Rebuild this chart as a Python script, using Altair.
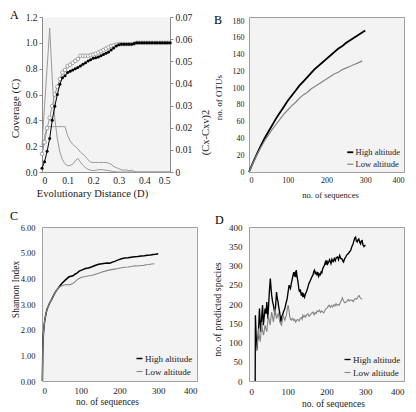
import altair as alt
import pandas as pd

SERIF = "Liberation Serif"
BG = "#f3f3f3"
FRAME = "#a0a0a0"
AXIS = "#8c8c8c"
TXT = "#1a1a1a"
HIGH = "#000000"
LOW = "#858585"
SITES = ["High altitude", "Low altitude"]

# ---------------- Panel A : coverage vs evolutionary distance ----------------
dist = [0.00, 0.01, 0.02, 0.03, 0.04, 0.05, 0.06, 0.07, 0.08, 0.09,
        0.10, 0.11, 0.12, 0.13, 0.14, 0.15, 0.16, 0.17, 0.18, 0.19,
        0.20, 0.21, 0.22, 0.23, 0.24, 0.25, 0.26, 0.27, 0.28, 0.29,
        0.30, 0.31, 0.32, 0.33, 0.34, 0.35, 0.36, 0.37, 0.38, 0.39,
        0.40, 0.41, 0.42, 0.43, 0.44, 0.45, 0.46, 0.47, 0.48, 0.49, 0.50]
cov_filled = [0.03, 0.08, 0.16, 0.26, 0.40, 0.51, 0.60, 0.68, 0.73, 0.745,
              0.77, 0.78, 0.79, 0.80, 0.81, 0.82, 0.835, 0.845, 0.86, 0.87,
              0.88, 0.885, 0.89, 0.90, 0.91, 0.92, 0.93, 0.945, 0.96, 0.975,
              0.985, 0.99, 0.99, 0.99, 0.99, 0.99, 0.995, 1.0, 1.0, 1.0,
              1.0, 1.0, 1.0, 1.0, 1.0, 1.0, 1.0, 1.0, 1.0, 1.0, 1.0]
cov_open = [0.14, 0.23, 0.34, 0.42, 0.51, 0.60, 0.66, 0.72, 0.77, 0.79,
            0.82, 0.83, 0.845, 0.86, 0.875, 0.90, 0.90, 0.90, 0.90, 0.905,
            0.91, 0.915, 0.925, 0.935, 0.945, 0.955, 0.965, 0.975, 0.98, 0.985,
            0.99, 0.99, 0.99, 0.99, 0.99, 0.99, 0.995, 1.0, 1.0, 1.0,
            1.0, 1.0, 1.0, 1.0, 1.0, 1.0, 1.0, 1.0, 1.0, 1.0, 1.0]
dev_peak = [0.012, 0.030, 0.047, 0.065, 0.042, 0.024, 0.015, 0.009, 0.0055, 0.0037,
            0.0028, 0.003, 0.0035, 0.005, 0.0062, 0.0045, 0.003, 0.002, 0.0012, 0.0008,
            0.0006, 0.0008, 0.0010, 0.0011, 0.0010, 0.0008, 0.0006, 0.0004, 0.0002, 0.0001,
            0.0, 0.0, 0.0, 0.0, 0.0, 0.0, 0.0, 0.0, 0.0, 0.0,
            0.0, 0.0, 0.0, 0.0, 0.0, 0.0, 0.0, 0.0, 0.0, 0.0, 0.0]
dev_plateau = [0.008, 0.016, 0.0205, 0.0205, 0.0205, 0.0205, 0.0205, 0.0205, 0.0205, 0.0205,
               0.0165, 0.014, 0.0125, 0.0115, 0.0105, 0.009, 0.008, 0.007, 0.0055, 0.0045,
               0.0043, 0.0043, 0.0043, 0.0043, 0.0043, 0.0043, 0.0040, 0.0035, 0.0025, 0.002,
               0.0015, 0.001, 0.0008, 0.001, 0.0005, 0.0008, 0.0003, 0.0, 0.0, 0.0,
               0.0, 0.0, 0.0, 0.0, 0.0, 0.0, 0.0, 0.0, 0.0, 0.0, 0.0]
a_xticks = [0, 0.1, 0.2, 0.3, 0.4, 0.5]
a_lticks = [0, 0.2, 0.4, 0.6, 0.8, 1.0, 1.2]
a_rticks = [0, 0.01, 0.02, 0.03, 0.04, 0.05, 0.06, 0.07]

# ---------------- Panel B : OTU rarefaction ----------------
b_high_n = [0, 10, 20, 30, 40, 50, 60, 70, 80, 90, 100, 110, 120, 130, 140, 150,
            160, 170, 180, 190, 200, 210, 220, 230, 240, 250, 260, 270, 280, 290, 300]
b_high_otu = [0, 11, 21, 31, 40, 48, 56, 64, 71, 78, 85, 91, 97, 103, 108, 113,
              118, 123, 127, 131, 135, 139, 143, 147, 150, 154, 157, 160, 163, 166, 169]
b_low_n = [0, 10, 20, 30, 40, 50, 60, 70, 80, 90, 100, 110, 120, 130, 140, 150,
           160, 170, 180, 190, 200, 210, 220, 230, 240, 250, 260, 270, 280, 290, 292]
b_low_otu = [0, 10, 20, 29, 37, 44, 51, 57, 63, 69, 74, 79, 83, 88, 92, 95,
             99, 102, 105, 108, 111, 114, 117, 119, 122, 124, 126, 128, 130, 132, 133]

# ---------------- Panel C : Shannon index ----------------
c_high_n = [1, 2, 3, 5, 7, 10, 13, 16, 20, 24, 28, 33, 37, 41, 45, 50, 55, 60, 65, 70,
            75, 80, 85, 90, 96, 104, 112, 120, 129, 137, 146, 155, 163, 170, 175, 182,
            189, 197, 205, 213, 222, 230, 239, 247, 256, 264, 272, 280, 287, 293, 300]
c_high_h = [0.0, 1.2, 1.7, 2.1, 2.35, 2.6, 2.8, 2.9, 3.05, 3.15, 3.28, 3.42, 3.52, 3.6,
            3.68, 3.78, 3.86, 3.93, 4.0, 4.06, 4.08, 4.1, 4.16, 4.2, 4.28, 4.33, 4.38,
            4.4, 4.45, 4.5, 4.55, 4.57, 4.59, 4.6, 4.59, 4.63, 4.67, 4.72, 4.76, 4.79,
            4.8, 4.82, 4.84, 4.85, 4.87, 4.88, 4.9, 4.91, 4.93, 4.94, 4.96]
c_low_n = [1, 2, 3, 5, 7, 10, 13, 16, 20, 24, 28, 33, 37, 41, 45, 50, 55, 60, 65, 70,
           75, 80, 85, 91, 97, 104, 112, 121, 130, 138, 146, 155, 163, 172, 180, 188,
           196, 205, 214, 222, 230, 238, 246, 255, 262, 268, 276, 283, 290]
c_low_h = [0.0, 1.2, 1.7, 2.1, 2.35, 2.6, 2.8, 2.9, 3.05, 3.15, 3.28, 3.42, 3.52, 3.6,
           3.66, 3.7, 3.73, 3.75, 3.76, 3.74, 3.77, 3.8, 3.86, 3.95, 4.0, 4.05, 4.07,
           4.1, 4.12, 4.16, 4.2, 4.25, 4.28, 4.32, 4.34, 4.36, 4.38, 4.41, 4.43, 4.44,
           4.46, 4.49, 4.48, 4.5, 4.5, 4.53, 4.54, 4.56, 4.57]

# ---------------- Panel D : predicted species ----------------
d_high_n = [16, 16.5, 20, 22, 24, 27, 29, 30.5, 33, 35, 37, 39, 41.5, 44, 46, 48.5, 50.5,
            52.5, 55, 57, 58.5, 61, 63, 65, 67, 69, 71, 73, 75, 77, 79, 81, 82.5, 84.5,
            86.5, 89, 92.5, 95, 98.5, 101, 103.5, 105.5, 107, 109, 111, 113, 115.5, 117,
            119, 120.5, 122, 124, 126.5, 128.5, 130.5, 132.5, 135, 137, 139, 141, 143.5,
            145.5, 148, 151, 154.5, 157, 160.5, 163, 165, 167, 169, 171, 173, 175.5,
            177.5, 180, 182, 184, 186, 188, 190, 192, 194.5, 197, 199, 201, 203, 205.5,
            208, 211.5, 214, 217, 220, 222.5, 225, 228.5, 231, 234, 237, 239.5, 242,
            244, 247, 249.5, 252, 256.5, 259, 262.5, 265, 268.5, 271, 273, 275, 277,
            279.5, 281.5, 283.5, 286, 288, 290, 292, 294, 296.5, 299, 300]
d_high_s = [0, 171, 80, 105, 119, 188, 150, 128, 170, 197, 145, 165, 188, 175, 205, 162, 195,
            231, 266, 240, 223, 205, 197, 185, 171, 200, 231, 215, 205, 190, 179, 165, 153, 168,
            171, 180, 188, 200, 214, 232, 249, 243, 240, 252, 262, 272, 283, 275,
            280, 270, 288, 272, 257, 240, 231, 238, 222, 230, 218, 225, 218,
            226, 231, 240, 253, 258, 266, 272, 275, 284, 288, 279, 282, 276,
            283, 272, 278, 276, 283, 281, 291, 296, 300, 309, 302, 313, 304, 309,
            315, 305, 316, 310, 318, 312, 320, 322, 315, 326, 318, 318, 312,
            309, 318, 322, 327, 331, 335, 339, 348, 356, 365, 372, 374, 364,
            361, 367, 369, 360, 356, 364, 365, 354, 349, 352, 350]
d_low_n = [19, 21, 23, 24.5, 26.5, 29, 31, 33, 35, 37.5, 39.5, 41.5, 44, 46, 48, 50, 52,
           54.5, 56.5, 58.5, 61, 63, 65, 67, 69, 71, 73, 75.5, 77.5, 79.5, 82, 84, 86, 88,
           90, 92.5, 94.5, 96.5, 99, 101, 103, 105, 107, 109.5, 111.5, 113.5, 116, 118,
           120.5, 123, 126, 129, 132, 135, 137, 139, 141.5, 144, 146, 149, 152, 155, 158,
           161.5, 165, 168, 170.5, 173, 176, 179, 182, 185, 188, 190.5, 193, 196, 199,
           202, 205, 207, 210, 213, 216, 219, 222, 224.5, 227.5, 230, 233, 236, 238.5,
           241, 244, 247, 250, 253, 256, 259, 262, 266, 269, 272, 275, 278, 281, 284,
           287, 290, 292]
d_low_s = [78, 95, 110, 136, 118, 102, 125, 153, 130, 119, 132, 145, 135, 128, 150, 171, 158,
           145, 163, 179, 165, 153, 170, 188, 175, 162, 168, 175, 165, 153, 148, 145, 158, 171,
           165, 158, 165, 171, 188, 197, 185, 168, 160, 158, 163, 162, 157, 160,
           153, 158, 160, 156, 162, 165, 160, 171, 166, 170, 166, 172, 175, 168, 171,
           176, 179, 172, 178, 175, 182, 180, 184, 178, 182, 179, 177, 184, 188,
           190, 195, 197, 191, 196, 192, 198, 195, 201, 196, 199, 197, 205, 210,
           216, 208, 203, 205, 207, 212, 208, 210, 210, 206, 212, 214, 213, 218, 222,
           216, 214, 212]

seq_ticks = [0, 100, 200, 300, 400]


def letter(t, dx, offset):
    return alt.TitleParams(t, anchor="start", frame="group", dx=dx, offset=offset,
                           font=SERIF, fontSize=12, fontWeight="normal", color="black")


def view_box(stroke):
    return alt.ViewBackground(fill=BG, stroke=stroke, strokeWidth=1)


def frame_axis(**kw):
    base = dict(grid=False, ticks=False, domain=False, labelFont=SERIF, labelColor=TXT,
                titleFont=SERIF, titleColor=TXT, titleFontWeight="normal",
                titleBaseline="middle")
    base.update(kw)
    return alt.Axis(**base)


def legend(size, offset):
    return alt.Legend(orient="bottom-right", offset=offset, symbolType="stroke",
                      symbolSize=36, symbolStrokeWidth=1.5, labelFont=SERIF,
                      labelFontSize=size, labelColor=TXT, labelFontWeight="normal",
                      padding=0, rowPadding=3, labelOffset=1, title=None)


def site_enc(size, offset, widths):
    return dict(
        color=alt.Color("site:N", scale=alt.Scale(domain=SITES, range=[HIGH, LOW]),
                        legend=legend(size, offset), title=None),
        strokeWidth=alt.StrokeWidth("site:N", scale=alt.Scale(domain=SITES, range=widths),
                                    legend=None),
    )


# ---- Panel A ----
dfA = pd.DataFrame({"D": dist, "filled": cov_filled, "open": cov_open,
                    "peak": dev_peak, "plateau": dev_plateau})
A_W, A_H = 128, 155
xA = alt.X("D:Q", scale=alt.Scale(domain=[0, 0.5], nice=False, zero=False),
           axis=alt.Axis(values=a_xticks, grid=False, ticks=False, domainColor=AXIS,
                         labelExpr="datum.value == 0 ? '0' : format(datum.value, '.1f')",
                         labelFont=SERIF, labelFontSize=9.5, labelColor=TXT, labelPadding=3,
                         title="Evolutionary Distance (D)", titleFont=SERIF, titleFontSize=10.5,
                         titleFontWeight="normal", titleColor=TXT, titleX=50, titleY=21,
                         titleBaseline="middle"))
axL = alt.Axis(orient="left", values=a_lticks, format=".1f", grid=False, tickSize=3,
               tickColor=AXIS, domainColor=AXIS, labelFont=SERIF, labelFontSize=9.5,
               labelColor=TXT, labelPadding=2, title="Coverage (C)", titleFont=SERIF,
               titleFontSize=11, titleFontWeight="normal", titleColor=TXT, titleX=-27,
               titleY=91, titleAngle=270, titleBaseline="middle")
axR = alt.Axis(orient="right", values=a_rticks, grid=False, tickSize=3, tickColor=AXIS,
               domainColor=AXIS, labelFont=SERIF, labelFontSize=9.5, labelColor=TXT,
               labelPadding=2,
               labelExpr="datum.value == 0 ? '0' : format(datum.value, '.2f')",
               title="(Cx-Cxv)2", titleFont=SERIF, titleFontSize=10.5,
               titleFontWeight="normal", titleColor=TXT, titleX=35, titleY=115,
               titleAngle=270, titleBaseline="middle")
yL_open = alt.Y("open:Q", scale=alt.Scale(domain=[0, 1.2], nice=False), axis=axL)
yL_fill = alt.Y("filled:Q", scale=alt.Scale(domain=[0, 1.2], nice=False), axis=axL)

devs = alt.Chart(dfA).transform_fold(["peak", "plateau"], as_=["k", "v"]).mark_line(
    color="#9a9a9a", strokeWidth=1).encode(
    x=xA, y=alt.Y("v:Q", scale=alt.Scale(domain=[0, 0.07], nice=False), axis=axR),
    detail="k:N")
open_line = alt.Chart(dfA).mark_line(
    color="#8f8f8f", strokeWidth=0.9,
    point=alt.OverlayMarkDef(filled=False, fill="white", stroke="#8f8f8f", size=13,
                             strokeWidth=0.8)).encode(x=xA, y=yL_open)
fill_line = alt.Chart(dfA).mark_line(
    color="black", strokeWidth=1,
    point=alt.OverlayMarkDef(filled=True, color="black", size=9)).encode(x=xA, y=yL_fill)

panelA = alt.layer(devs, alt.layer(open_line, fill_line)).resolve_scale(
    y="independent").properties(width=A_W, height=A_H, title=letter("A", -32, -10),
                                view=view_box("transparent"))

# ---- Panel B ----
dfB = pd.concat([
    pd.DataFrame({"n": b_high_n, "v": b_high_otu, "site": SITES[0]}),
    pd.DataFrame({"n": b_low_n, "v": b_low_otu, "site": SITES[1]}),
])
panelB = alt.Chart(dfB).mark_line().encode(
    x=alt.X("n:Q", scale=alt.Scale(domain=[0, 400], nice=False),
            axis=frame_axis(values=seq_ticks, labelFontSize=8, labelPadding=4,
                            title="no. of sequences", titleFontSize=8.5, titleX=81, titleY=22)),
    y=alt.Y("v:Q", scale=alt.Scale(domain=[0, 185], nice=False),
            axis=frame_axis(values=[0, 20, 40, 60, 80, 100, 120, 140, 160, 180],
                            labelFontSize=8, labelPadding=5, title="no. of OTUs",
                            titleFontSize=9, titleX=-31, titleY=80, titleAngle=270)),
    order="site:N",
    **site_enc(8.5, 3, [1.8, 1.2]),
).properties(width=155, height=155, title=letter("B", -35, -10), view=view_box(FRAME))

# ---- Panel C ----
dfC = pd.concat([
    pd.DataFrame({"n": c_high_n, "v": c_high_h, "site": SITES[0]}),
    pd.DataFrame({"n": c_low_n, "v": c_low_h, "site": SITES[1]}),
])
panelC = alt.Chart(dfC).mark_line().encode(
    x=alt.X("n:Q", scale=alt.Scale(domain=[0, 400], nice=False),
            axis=frame_axis(values=seq_ticks, labelFontSize=9, labelPadding=5,
                            title="no. of sequences", titleFontSize=9.5, titleX=65, titleY=20)),
    y=alt.Y("v:Q", scale=alt.Scale(domain=[0, 6], nice=False),
            axis=frame_axis(values=[0, 1, 2, 3, 4, 5, 6], format=".2f", labelFontSize=8.5,
                            labelPadding=7, title="Shannon Index", titleFontSize=9.5,
                            titleX=-27, titleY=62, titleAngle=270)),
    **site_enc(9, 4, [1.5, 1.1]),
).properties(width=155, height=154, title=letter("C", -32, 0), view=view_box(FRAME))

# ---- Panel D ----
dfD = pd.concat([
    pd.DataFrame({"n": d_high_n, "v": d_high_s, "site": SITES[0]}),
    pd.DataFrame({"n": d_low_n, "v": d_low_s, "site": SITES[1]}),
])
panelD = alt.Chart(dfD).mark_line().encode(
    x=alt.X("n:Q", scale=alt.Scale(domain=[0, 400], nice=False),
            axis=frame_axis(values=seq_ticks, labelFontSize=9, labelPadding=6,
                            title="no. of sequences", titleFontSize=9.5, titleX=84, titleY=22)),
    y=alt.Y("v:Q", scale=alt.Scale(domain=[0, 400], nice=False),
            axis=frame_axis(values=[0, 50, 100, 150, 200, 250, 300, 350, 400],
                            labelFontSize=9, labelPadding=7,
                            title="no. of predicted species", titleFontSize=10,
                            titleX=-32, titleY=82, titleAngle=270)),
    **site_enc(9, 3, [1.35, 1.1]),
).properties(width=155, height=154, title=letter("D", -34, -4), view=view_box(FRAME))

chart = alt.concat(panelA, panelB, panelC, panelD, columns=2, bounds="flush", align="all",
                   spacing={"row": 55, "column": 52}).resolve_scale(
    x="independent", y="independent", color="independent", strokeWidth="independent"
).resolve_legend(color="independent", strokeWidth="independent").properties(
    padding=0).configure(background="white")

chart.save("out.html", embed_options={"renderer": "svg", "actions": False})
